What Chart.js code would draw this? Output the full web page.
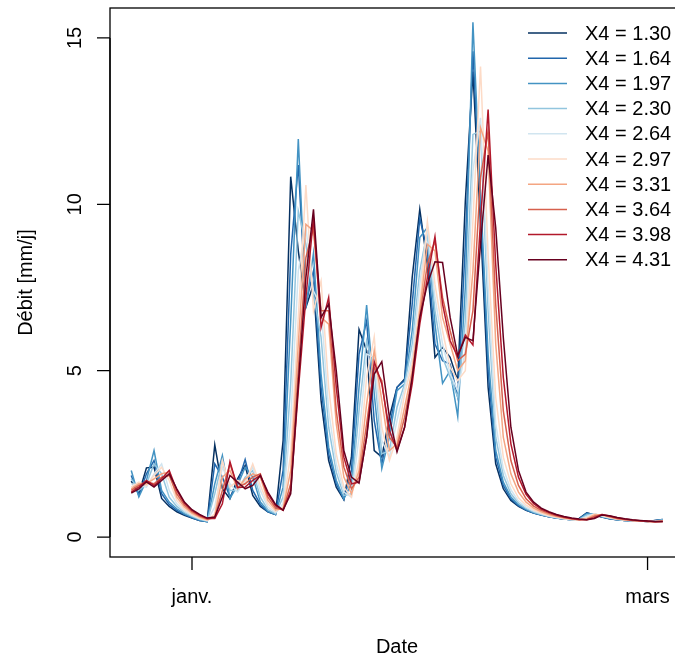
<!DOCTYPE html>
<html lang="fr">
<head>
<meta charset="UTF-8">
<title>Débit simulé selon X4</title>
<script src="https://cdn.jsdelivr.net/npm/chart.js@4"></script>
<style>
  html, body { margin: 0; padding: 0; background: #fff; overflow: hidden; }
  #wrap { width: 720px; height: 659px; }
</style>
</head>
<body>
<div id="wrap"><canvas id="chart" width="720" height="659"></canvas></div>
<script>
// jours comptés depuis le 1er janvier (24 déc. -> 2 mars, année bissextile)
const days = [-8,-7,-6,-5,-4,-3,-2,-1,0,1,2,3,4,5,6,7,8,9,10,11,12,13,14,15,16,17,18,19,20,21,22,23,24,25,26,27,28,29,30,31,32,33,34,35,36,37,38,39,40,41,42,43,44,45,46,47,48,49,50,51,52,53,54,55,56,57,58,59,60,61,62];

const x4Labels = ['X4 = 1.30','X4 = 1.64','X4 = 1.97','X4 = 2.30','X4 = 2.64','X4 = 2.97','X4 = 3.31','X4 = 3.64','X4 = 3.98','X4 = 4.31'];
const x4Colors = ['#053061','#2166AC','#4393C3','#92C5DE','#D1E5F0','#FDDBC7','#F4A582','#D6604D','#B2182B','#67001F'];

// débits simulés [mm/j]
const q130 = [1.68,1.30,2.08,2.10,1.16,0.92,0.76,0.65,0.57,0.50,0.47, 2.77,1.45,1.15,1.75,2.15,1.25,0.92,0.76,0.68,2.9, 10.83,8.6,6.9,7.6,4.1,2.3,1.5,1.12,2.4,6.24, 5.6,2.6,2.4,3.6,4.5,4.75,7.8,9.85,8.2,5.4, 5.7,5.4,4.7,10.1,13.99,9.4,4.5,2.2,1.45,1.1, 0.92,0.8,0.72,0.66,0.61,0.57,0.54,0.52,0.56,0.73, 0.66,0.6,0.55,0.52,0.5,0.49,0.48,0.47,0.5,0.53];
const q164 = [1.85,1.25,1.9,2.3,1.3,0.98,0.8,0.68,0.58,0.5,0.46, 2.2,1.8,1.2,1.6,2.33,1.4,0.98,0.76,0.68,2.0, 8.5,11.18,7.0,8.0,4.5,2.5,1.6,1.13,2.0,5.5, 6.5,3.5,2.2,3.3,4.5,4.7,7.0,9.58,8.6,5.8, 5.3,5.2,4.2,8.8,14.6,10.0,5.0,2.4,1.55,1.15, 0.94,0.81,0.72,0.66,0.61,0.57,0.54,0.52,0.55,0.72, 0.67,0.6,0.55,0.52,0.5,0.49,0.48,0.47,0.5,0.53];
const q197 = [2.0,1.21,1.7,2.6,1.4,1.05,0.85,0.7,0.6,0.51,0.46, 1.6,2.45,1.16,1.55,2.1,1.8,1.05,0.78,0.68,1.5, 6.5,11.96,6.9,8.53,4.9,2.7,1.7,1.15,1.6,4.5, 6.97,4.3,2.06,3.0,4.4,4.6,6.2,9.0,9.3,6.4, 4.62,5.0,3.62,7.5,15.47,10.3,5.5,2.6,1.65,1.2, 0.97,0.83,0.73,0.67,0.62,0.57,0.54,0.52,0.54,0.7, 0.69,0.61,0.56,0.52,0.5,0.49,0.48,0.47,0.49,0.52];
const q230 = [1.75,1.4,1.6,2.2,1.9,1.2,0.92,0.74,0.62,0.53,0.48, 1.3,2.3,1.4,1.4,1.8,2.0,1.2,0.82,0.7,1.2, 4.6,9.8,8.8,7.3,6.0,3.3,1.95,1.25,1.3,3.8, 5.9,5.0,2.5,2.6,3.9,4.6,5.8,8.0,9.2,6.8, 5.4,4.8,4.2,6.5,12.1,12.2,6.8,3.0,1.85,1.3, 1.02,0.86,0.75,0.68,0.62,0.58,0.54,0.52,0.53,0.66, 0.7,0.62,0.57,0.53,0.5,0.49,0.48,0.47,0.48,0.51];
const q264 = [1.6,1.55,1.5,1.9,2.2,1.4,1.0,0.78,0.65,0.55,0.49, 0.9,2.1,1.6,1.35,1.7,2.1,1.4,0.9,0.73,1.0, 3.5,8.0,9.3,7.4,6.9,3.8,2.2,1.35,1.2,3.0, 5.5,5.4,2.9,2.4,3.5,4.5,5.4,7.6,9.3,7.2, 5.8,4.9,4.4,5.6,11.0,12.6,7.5,3.4,2.05,1.42, 1.08,0.9,0.78,0.7,0.63,0.59,0.55,0.52,0.52,0.62, 0.7,0.63,0.58,0.54,0.51,0.49,0.48,0.47,0.47,0.5];
const q297 = [1.5,1.65,1.55,1.85,2.1,1.7,1.1,0.84,0.68,0.57,0.5, 0.7,2.3,1.5,1.7,1.6,2.2,1.55,1.0,0.77,0.9, 2.5,6.6,10.58,6.8,7.7,4.5,2.5,1.5,1.2,2.3, 4.8,6.02,3.3,2.3,3.0,4.3,5.2,7.0,9.48,7.6, 6.2,5.1,4.7,5.0,9.5,14.14,8.5,4.2,2.4,1.6, 1.18,0.96,0.82,0.72,0.65,0.6,0.56,0.53,0.51,0.58, 0.69,0.65,0.59,0.54,0.51,0.5,0.48,0.47,0.47,0.49];
const q331 = [1.45,1.6,1.6,1.75,1.9,1.95,1.2,0.9,0.72,0.6,0.52, 0.62,1.8,2.0,1.45,1.75,1.9,1.8,1.1,0.82,0.85, 2.0,5.8,9.4,9.2,6.6,6.4,3.4,1.8,1.3,2.0, 4.0,5.6,4.1,2.6,2.8,3.9,5.0,6.8,8.8,8.6, 6.6,5.8,5.0,5.3,8.0,12.3,11.6,5.8,3.0,1.9, 1.35,1.05,0.87,0.76,0.68,0.62,0.57,0.54,0.52,0.55, 0.66,0.67,0.6,0.55,0.52,0.5,0.48,0.47,0.46,0.48];
const q364 = [1.4,1.55,1.65,1.6,1.8,1.85,1.3,0.96,0.76,0.63,0.54, 0.58,1.4,2.2,1.5,1.6,1.8,1.9,1.2,0.88,0.82, 1.6,5.0,8.4,9.3,6.8,6.8,3.8,2.1,1.45,1.8, 3.4,5.1,4.7,3.0,2.7,3.6,4.8,6.6,8.2,8.9, 7.2,6.2,5.3,5.5,6.8,10.8,12.2,7.0,3.8,2.3, 1.55,1.15,0.93,0.8,0.71,0.64,0.59,0.55,0.52,0.53, 0.62,0.68,0.62,0.56,0.53,0.5,0.49,0.47,0.46,0.47];
const q398 = [1.35,1.5,1.7,1.55,1.75,2.0,1.4,1.02,0.8,0.66,0.56, 0.56,1.0,2.26,1.49,1.5,1.7,1.85,1.3,0.95,0.8, 1.4,4.4,7.2,9.6,6.3,7.2,4.5,2.4,1.6,1.65, 3.0,5.27,4.6,3.2,2.6,3.3,4.6,6.4,7.8,9.03, 7.0,5.9,5.42,6.07,5.77,9.5,12.85,8.2,4.8,2.8, 1.8,1.28,1.0,0.84,0.74,0.66,0.6,0.56,0.53,0.52, 0.58,0.68,0.63,0.58,0.54,0.51,0.49,0.48,0.46,0.47];
const q431 = [1.32,1.45,1.66,1.5,1.7,1.9,1.45,1.05,0.82,0.68,0.57, 0.6,1.2,1.85,1.65,1.45,1.55,1.85,1.35,0.98,0.81, 1.3,4.6,7.8,9.85,6.6,7.0,5.0,2.6,1.8,1.62, 3.0,4.9,5.27,3.6,2.56,3.3,4.8,6.6,7.6,8.27, 8.25,6.6,5.45,6.0,5.9,8.8,11.48,9.3,6.0,3.3, 2.0,1.35,1.05,0.87,0.76,0.68,0.62,0.57,0.54,0.52, 0.56,0.66,0.64,0.59,0.55,0.52,0.5,0.48,0.47,0.47];

const allSeries = [q130, q164, q197, q230, q264, q297, q331, q364, q398, q431];

const yTicks = [0, 5, 10, 15];
const xTicks = [0, 60];
const xTickLabels = ['janv.', 'mars'];

const FONT = '20px "Liberation Sans", Arial, Helvetica, sans-serif';
const LINE_W = 1.5;

// axes, cadre et légende façon graphique R
const rStyle = {
    id: 'rStyle',
    afterDraw(chart) {
        const { ctx, chartArea: a, scales: { x, y } } = chart;
        ctx.save();
        ctx.strokeStyle = '#000';
        ctx.fillStyle = '#000';
        ctx.lineWidth = 1.3;
        ctx.strokeRect(a.left, a.top, a.right - a.left, a.bottom - a.top);

        ctx.beginPath();
        ctx.moveTo(a.left, y.getPixelForValue(yTicks[0]));
        ctx.lineTo(a.left, y.getPixelForValue(yTicks[yTicks.length - 1]));
        yTicks.forEach(v => {
            const py = y.getPixelForValue(v);
            ctx.moveTo(a.left - 13, py);
            ctx.lineTo(a.left, py);
        });
        xTicks.forEach(v => {
            const px = x.getPixelForValue(v);
            ctx.moveTo(px, a.bottom);
            ctx.lineTo(px, a.bottom + 13);
        });
        ctx.stroke();

        ctx.font = FONT;
        ctx.textAlign = 'center';
        ctx.textBaseline = 'alphabetic';
        xTicks.forEach((v, i) => ctx.fillText(xTickLabels[i], x.getPixelForValue(v), 603));
        ctx.fillText('Date', (a.left + a.right) / 2, 653);

        yTicks.forEach(v => {
            ctx.save();
            ctx.translate(81, y.getPixelForValue(v));
            ctx.rotate(-Math.PI / 2);
            ctx.fillText(String(v), 0, 0);
            ctx.restore();
        });
        ctx.save();
        ctx.translate(32, (a.top + a.bottom) / 2);
        ctx.rotate(-Math.PI / 2);
        ctx.fillText('Débit [mm/j]', 0, 0);
        ctx.restore();

        // légende
        ctx.textAlign = 'left';
        ctx.textBaseline = 'middle';
        x4Labels.forEach((lab, k) => {
            const ly = 33 + 25.2 * k;
            ctx.strokeStyle = x4Colors[k];
            ctx.lineWidth = LINE_W;
            ctx.beginPath();
            ctx.moveTo(528, ly);
            ctx.lineTo(567, ly);
            ctx.stroke();
            ctx.fillText(lab, 585, ly + 1);
        });
        ctx.restore();
    }
};

const datasets = allSeries.map((vals, i) => ({
    label: x4Labels[i],
    data: days.map((d, j) => ({ x: d, y: vals[j] })),
    borderColor: x4Colors[i],
    backgroundColor: x4Colors[i],
    borderWidth: LINE_W,
    pointRadius: 0,
    tension: 0,
    fill: false,
    order: allSeries.length - 1 - i
}));

new Chart(document.getElementById('chart'), {
    type: 'line',
    data: { datasets },
    options: {
        responsive: false,
        animation: false,
        devicePixelRatio: 1,
        layout: { padding: { left: 110, top: 8, right: 36, bottom: 102 } },
        scales: {
            x: { type: 'linear', min: -10.8, max: 64.8, display: false },
            y: { type: 'linear', min: -0.6, max: 15.9, display: false }
        },
        plugins: { legend: { display: false }, tooltip: { enabled: false } }
    },
    plugins: [rStyle]
});
</script>
</body>
</html>
